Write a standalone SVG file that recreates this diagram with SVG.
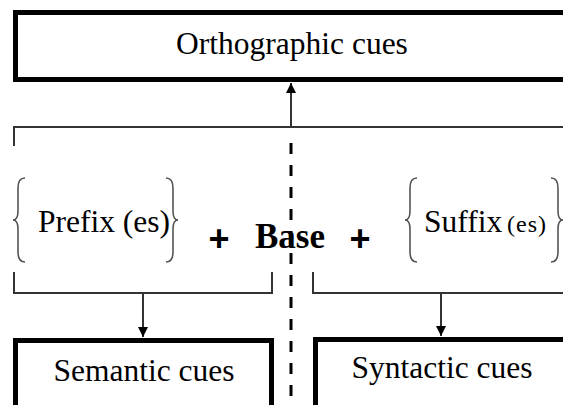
<svg xmlns="http://www.w3.org/2000/svg" width="563" height="405" viewBox="0 0 563 405">
<defs>
<style>
.box{fill:#fff;stroke:#000;stroke-width:5}
.t{font-family:"Liberation Serif","Times New Roman",serif;font-size:31.5px;fill:#000}
.b{font-family:"Liberation Serif","Times New Roman",serif;font-size:35px;font-weight:bold;fill:#000}
.p{font-family:"Liberation Sans",Arial,sans-serif;font-size:36px;font-weight:bold;fill:#000}
.ln{stroke:#333;stroke-width:2;fill:none}
.br{stroke:#555;stroke-width:1.6;fill:none}
.dash{stroke:#000;stroke-width:3;stroke-dasharray:11,11;fill:none}
</style>
<marker id="ah" viewBox="0 0 10 10" refX="10" refY="5" markerWidth="5" markerHeight="5" orient="auto" markerUnits="strokeWidth">
<path d="M0,0 L10,5 L0,10 Z" fill="#000"/>
</marker>
</defs>
<rect width="563" height="405" fill="#fff"/>
<g id="orthographic">
<rect class="box" x="15.5" y="12.5" width="560" height="67"/>
<text class="t" x="292" y="54" text-anchor="middle">Orthographic cues</text>
</g>
<g id="semantic">
<rect class="box" x="15.5" y="340.5" width="256" height="80"/>
<text class="t" x="144" y="381" text-anchor="middle">Semantic cues</text>
</g>
<g id="syntactic">
<rect class="box" x="315.5" y="339.5" width="260" height="80"/>
<text class="t" x="442" y="378" text-anchor="middle">Syntactic cues</text>
</g>
<g id="prefix">
<path class="br" d="M25,178 Q18,178 18,188 L18,211 Q18,220 13,220 Q18,220 18,229 L18,252 Q18,262 25,262"/>
<text class="t" x="38" y="232" font-size="31">Prefix (es)</text>
<path class="br" d="M166,178 Q173,178 173,188 L173,211 Q173,220 178,220 Q173,220 173,229 L173,252 Q173,262 166,262"/>
</g>
<g id="base">
<text class="p" x="219" y="251" text-anchor="middle">+</text>
<text class="b" x="290" y="248" text-anchor="middle">Base</text>
<text class="p" x="360" y="251" text-anchor="middle">+</text>
</g>
<g id="suffix">
<path class="br" d="M417,178 Q410,178 410,188 L410,211 Q410,220 405,220 Q410,220 410,229 L410,252 Q410,262 417,262"/>
<text class="t" x="424" y="232" font-size="31">Suffix <tspan x="507" font-size="24" letter-spacing="1">(es)</tspan></text>
<path class="br" d="M551,178 Q558,178 558,188 L558,211 Q558,220 563,220 Q558,220 558,229 L558,252 Q558,262 551,262"/>
</g>
<g id="connectors">
<path class="ln" d="M14,146 L14,127 L563,127"/>
<path class="ln" d="M14,272 L14,293 L272,293 L272,272"/>
<path class="ln" d="M313,272 L313,293 L563,293"/>
<line class="ln" x1="291" y1="127" x2="291" y2="83" stroke="#000" marker-end="url(#ah)"/>
<line class="ln" x1="143" y1="293" x2="143" y2="337" stroke="#000" marker-end="url(#ah)"/>
<line class="ln" x1="441" y1="293" x2="441" y2="336" stroke="#000" marker-end="url(#ah)"/>
<line class="dash" x1="291" y1="143" x2="291" y2="405"/>
</g>
</svg>
